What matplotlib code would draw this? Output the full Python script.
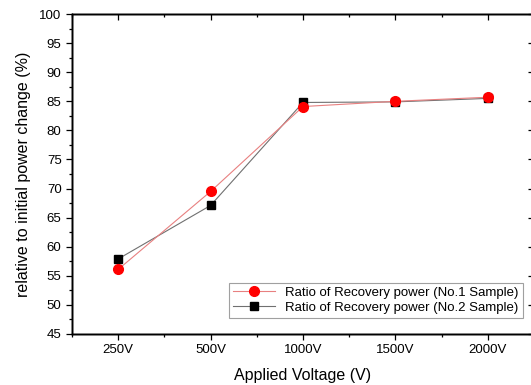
import matplotlib.pyplot as plt
from matplotlib.ticker import MultipleLocator

plt.rcParams['font.family'] = ['Liberation Sans', 'DejaVu Sans']

voltages = ['250V', '500V', '1000V', '1500V', '2000V']
sample1 = [56.1, 69.5, 84.1, 85.0, 85.7]
sample2 = [57.9, 67.1, 84.8, 84.9, 85.5]

fig = plt.figure(figsize=(5.31, 3.85), dpi=100)
ax = fig.add_axes([0.1356, 0.1325, 0.870, 0.831])

x = list(range(len(voltages)))
ax.plot(x, sample1, color='#e88080', lw=0.8, marker='o', ms=7,
        mfc='red', mec='red', zorder=3,
        label='Ratio of Recovery power (No.1 Sample)')
ax.plot(x, sample2, color='#707070', lw=0.8, marker='s', ms=6,
        mfc='black', mec='black', zorder=2,
        label='Ratio of Recovery power (No.2 Sample)')

ax.set_xlim(-0.5, 4.5)
ax.set_ylim(45, 100)
ax.set_xticks(x)
ax.set_xticklabels(voltages)
ax.xaxis.set_minor_locator(MultipleLocator(0.5))
ax.yaxis.set_major_locator(MultipleLocator(5))
ax.yaxis.set_minor_locator(MultipleLocator(2.5))
ax.tick_params(which='both', labelsize=9.5, width=0.9, direction='out',
               top=False, right=False)
ax.tick_params(which='major', length=4)
ax.tick_params(which='minor', length=2.5)

# mirrored ticks on top and right, pointing inward
ax2 = ax.twiny()
ax2.set_xlim(ax.get_xlim())
ax2.set_xticks(x)
ax2.set_xticklabels([])
ax2.xaxis.set_minor_locator(MultipleLocator(0.5))
ax3 = ax.twinx()
ax3.set_ylim(ax.get_ylim())
ax3.yaxis.set_major_locator(MultipleLocator(5))
ax3.yaxis.set_minor_locator(MultipleLocator(2.5))
ax3.set_yticklabels([])
for a in (ax2, ax3):
    a.tick_params(which='both', direction='in', width=0.9)
    a.tick_params(which='major', length=4)
    a.tick_params(which='minor', length=2.5)
for a in (ax, ax2, ax3):
    for sp in a.spines.values():
        sp.set_linewidth(1.0)

ax.set_xlabel('Applied Voltage (V)', fontsize=11.5, labelpad=8)
ax.set_ylabel('relative to initial power change (%)', fontsize=11.5, labelpad=6)

leg = ax3.legend(*ax.get_legend_handles_labels(), loc='lower right',
                 fontsize=9.5, frameon=True, fancybox=False,
                 edgecolor='#888888', borderpad=0.3, handlelength=3.2,
                 labelspacing=0.2, bbox_to_anchor=(0.99, 0.03))
leg.get_frame().set_linewidth(0.8)

fig.savefig('out.png', dpi=100)
